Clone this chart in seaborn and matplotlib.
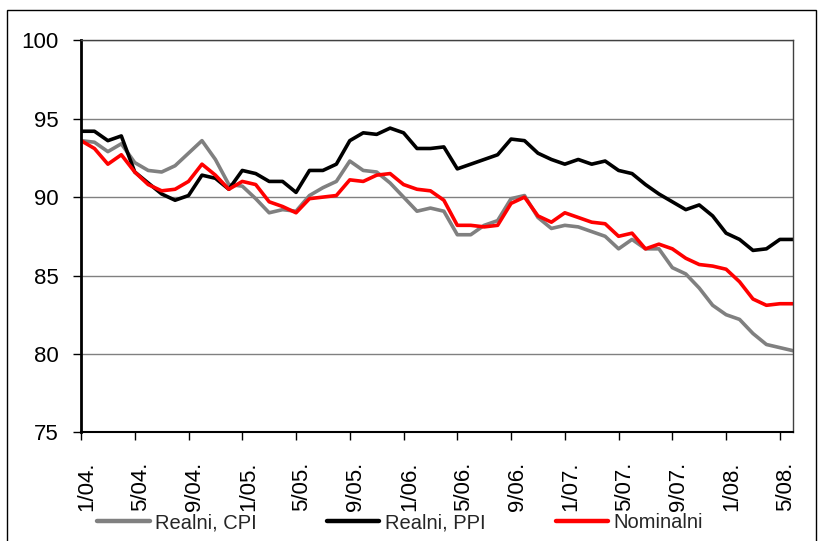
#!/usr/bin/env python3
"""Realni i nominalni indeksi 2004-2008: line chart (seaborn)."""
import matplotlib

matplotlib.use("Agg")
import matplotlib.pyplot as plt
import matplotlib.transforms as mtransforms
from matplotlib.patches import Rectangle
import pandas as pd
import seaborn as sns

# monthly observations, 1/04 .. 6/08
months = [f"{m}/{y:02d}." for y in range(4, 9) for m in range(1, 13)][:54]

realni_cpi = [
    93.6, 93.5, 92.9, 93.4, 92.2, 91.7, 91.6, 92.0, 92.8, 93.6,
    92.4, 90.8, 90.7, 89.9, 89.0, 89.2, 89.1, 90.1, 90.6, 91.0,
    92.3, 91.7, 91.6, 90.9, 90.0, 89.1, 89.3, 89.1, 87.6, 87.6,
    88.2, 88.5, 89.9, 90.1, 88.7, 88.0, 88.2, 88.1, 87.8, 87.5,
    86.7, 87.3, 86.7, 86.7, 85.5, 85.1, 84.2, 83.1, 82.5, 82.2,
    81.3, 80.6, 80.4, 80.2,
]
realni_ppi = [
    94.2, 94.2, 93.6, 93.9, 91.6, 90.9, 90.2, 89.8, 90.1, 91.4,
    91.2, 90.5, 91.7, 91.5, 91.0, 91.0, 90.3, 91.7, 91.7, 92.1,
    93.6, 94.1, 94.0, 94.4, 94.1, 93.1, 93.1, 93.2, 91.8, 92.1,
    92.4, 92.7, 93.7, 93.6, 92.8, 92.4, 92.1, 92.4, 92.1, 92.3,
    91.7, 91.5, 90.8, 90.2, 89.7, 89.2, 89.5, 88.8, 87.7, 87.3,
    86.6, 86.7, 87.3, 87.3,
]
nominalni = [
    93.6, 93.1, 92.1, 92.7, 91.6, 90.8, 90.4, 90.5, 91.0, 92.1,
    91.4, 90.5, 91.0, 90.8, 89.7, 89.4, 89.0, 89.9, 90.0, 90.1,
    91.1, 91.0, 91.4, 91.5, 90.8, 90.5, 90.4, 89.8, 88.2, 88.2,
    88.1, 88.2, 89.6, 90.0, 88.8, 88.4, 89.0, 88.7, 88.4, 88.3,
    87.5, 87.7, 86.7, 87.0, 86.7, 86.1, 85.7, 85.6, 85.4, 84.6,
    83.5, 83.1, 83.2, 83.2,
]

series_names = ["Realni, CPI", "Realni, PPI", "Nominalni"]
series_colors = ["#808080", "#000000", "#FF0000"]
tick_labels = months[::4]
y_ticks = [75, 80, 85, 90, 95, 100]


def main() -> None:
    sns.set_theme(style="ticks")
    plt.rcParams["font.family"] = ["Liberation Sans", "DejaVu Sans"]

    df = pd.DataFrame(
        {
            "idx": list(range(len(months))) * 3,
            "value": realni_cpi + realni_ppi + nominalni,
            "series": [s for s in series_names for _ in months],
        }
    )

    W, H = 818, 541
    fig = plt.figure(figsize=(W / 100, H / 100), dpi=100)
    ax = fig.add_axes([81 / W, 1 - 432.3 / H, (793.3 - 81) / W, (432.3 - 40.3) / H])

    sns.lineplot(
        data=df,
        x="idx",
        y="value",
        hue="series",
        hue_order=series_names,
        palette=series_colors,
        linewidth=2.6,
        legend=False,
        ax=ax,
    )

    ax.set_xlim(0, len(months) - 1)
    ax.set_ylim(75, 100)
    ax.set_yticks(y_ticks)
    ax.set_xticks(range(0, len(months), 4))
    ax.set_xticklabels(tick_labels, rotation=90, va="top", ha="center")
    ax.set_xlabel("")
    ax.set_ylabel("")

    ax.grid(axis="y", color="#808080", linewidth=1.0)
    ax.grid(axis="x", visible=False)
    ax.set_axisbelow(True)

    ax.tick_params(axis="y", direction="out", length=6, width=1, pad=10,
                   labelsize=16, colors="black")
    ax.tick_params(axis="x", direction="out", length=6, width=1, pad=15,
                   labelsize=16, colors="black")
    offset = mtransforms.ScaledTranslation(6 / 100, 0, fig.dpi_scale_trans)
    for lbl in ax.get_xticklabels():
        lbl.set_transform(lbl.get_transform() + offset)

    ax.spines["left"].set_linewidth(2.0)
    ax.spines["left"].set_color("black")
    ax.spines["bottom"].set_linewidth(1.5)
    ax.spines["bottom"].set_color("black")
    for s in ("top", "right"):
        ax.spines[s].set_linewidth(1.0)
        ax.spines[s].set_color("#404040")

    handles = [
        plt.Line2D([], [], color=c, linewidth=3.2) for c in series_colors
    ]
    fig.legend(
        handles,
        series_names,
        loc="center",
        bbox_to_anchor=(400 / W, 1 - 523 / H),
        ncol=3,
        frameon=False,
        fontsize=14.5,
        handlelength=2.6,
        handletextpad=0.25,
        columnspacing=3.5,
    )

    # outer chart border
    fig.patches.append(
        Rectangle((7 / W, -0.01), (816 - 7) / W, 1.01 - 10 / H,
                  transform=fig.transFigure, fill=False,
                  edgecolor="black", linewidth=1.0)
    )

    fig.savefig("out.png", dpi=100)
    plt.close(fig)


if __name__ == "__main__":
    main()
